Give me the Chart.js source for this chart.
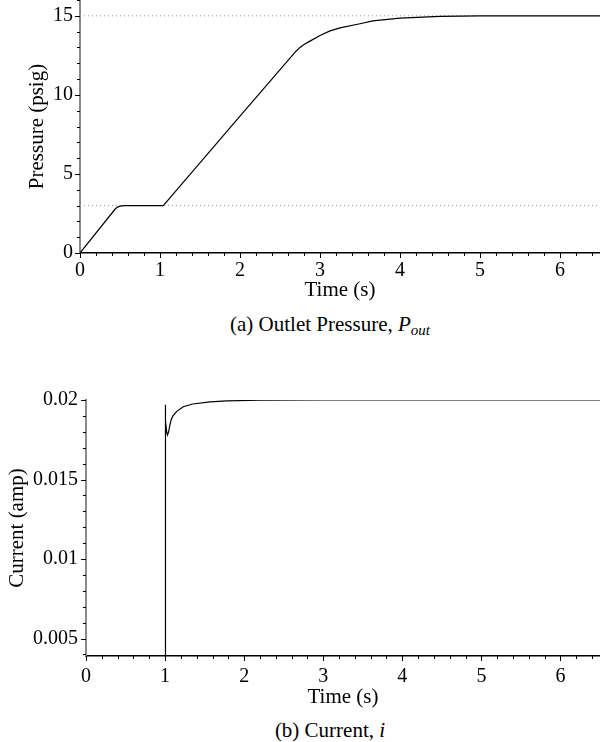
<!DOCTYPE html>
<html><head><meta charset="utf-8">
<script src="https://cdn.jsdelivr.net/npm/chart.js@4.4.0/dist/chart.umd.min.js"></script>
<style>
html,body{margin:0;padding:0;background:#fff;}
body{width:600px;height:742px;position:relative;overflow:hidden;font-family:"Liberation Serif","Times New Roman",serif;}
canvas{position:absolute;left:0;}
#c1{top:0;}
#c2{top:380px;}
.cap{position:absolute;left:30px;width:600px;text-align:center;font-size:21px;line-height:24px;color:#000;white-space:nowrap;}
.cap sub{font-size:15px;vertical-align:-4px;line-height:0;}
</style></head>
<body>
<canvas id="c1" width="600" height="303"></canvas>
<div class="cap" style="top:312px">(a) Outlet Pressure, <i>P<sub>out</sub></i></div>
<canvas id="c2" width="600" height="330"></canvas>
<div class="cap" style="top:718px">(b) Current, <i>i</i></div>
<script>
// ---- data ----
const pressureTime   = [0, 0.44, 0.47, 0.5, 0.55, 0.6, 1.04, 1.1, 2.0, 2.7, 2.75, 2.8, 2.875, 3.0, 3.125, 3.25, 3.5, 3.66, 4.0, 4.5, 5.0, 5.5, 6.0, 6.5];
const pressureValues = [0, 2.78, 2.9, 2.96, 2.99, 3.0, 3.0, 3.35, 8.65, 12.76, 13.0, 13.18, 13.4, 13.75, 14.05, 14.24, 14.5, 14.68, 14.85, 14.96, 14.99, 15, 15, 15];
const pressureRefLevels = [3, 15];

const currentTime   = [0, 1.0, 1.0, 1.01, 1.02, 1.03, 1.045, 1.06, 1.08, 1.1, 1.145, 1.23, 1.35, 1.57, 1.78, 2.2, 3.0, 4.0, 5.0, 6.0, 6.5];
const currentValues = [0, 0, 0.0197, 0.0187, 0.0180, 0.0178, 0.0180, 0.0184, 0.0188, 0.0190, 0.01927, 0.01958, 0.01975, 0.01988, 0.01994, 0.01999, 0.02, 0.02, 0.02, 0.02, 0.02];

const timeTicks     = [0, 1, 2, 3, 4, 5, 6];
const pressureTicks = [0, 5, 10, 15];
const currentTicks  = [0.005, 0.01, 0.015, 0.02];

const FONT = '"Liberation Serif","Times New Roman",serif';

const tickPlugin = {
  id: 'tickMarks',
  afterDraw(chart, args, opts) {
    const ctx = chart.ctx, ca = chart.chartArea;
    const xs = chart.scales.x, ys = chart.scales.y;
    ctx.save();
    ctx.strokeStyle = '#000';
    ctx.lineWidth = 1;
    const minors = (scale, step) => {
      const out = [];
      const a = Math.ceil(scale.min / step - 1e-9), b = Math.floor(scale.max / step + 1e-9);
      for (let i = a; i <= b; i++) out.push(i * step);
      return out;
    };
    const xt = (v, len) => {
      const p = Math.round(xs.getPixelForValue(v)) + 0.5;
      ctx.beginPath(); ctx.moveTo(p, ca.bottom); ctx.lineTo(p, ca.bottom + len); ctx.stroke();
    };
    const yt = (v, len) => {
      const p = Math.round(ys.getPixelForValue(v)) + 0.5;
      ctx.beginPath(); ctx.moveTo(ca.left, p); ctx.lineTo(ca.left - len, p); ctx.stroke();
    };
    minors(xs, opts.xMinor).forEach(v => xt(v, 3));
    opts.xMajor.forEach(v => xt(v, 5));
    minors(ys, opts.yMinor).forEach(v => yt(v, 3));
    opts.yMajor.forEach(v => yt(v, 5));
    ctx.restore();
  }
};

function makeChart(id, cfg) {
  const datasets = [];
  (cfg.refs || []).forEach(r => datasets.push({
    data: [{x: cfg.xmin, y: r}, {x: cfg.xmax, y: r}],
    borderColor: '#9a9a9a', borderWidth: 1, borderDash: [1, 3], pointRadius: 0, order: 2
  }));
  datasets.push({
    data: cfg.t.map((t, i) => ({x: t, y: cfg.v[i]})),
    borderColor: '#000', borderWidth: 1.2, pointRadius: 0, tension: 0, order: 1
  });
  return new Chart(document.getElementById(id), {
    type: 'line',
    data: {datasets},
    options: {
      responsive: false, animation: false, devicePixelRatio: 1,
      layout: {padding: {top: cfg.padTop, left: 0, right: 0, bottom: 0}},
      plugins: {legend: {display: false}, tooltip: {enabled: false},
        tickMarks: {xMajor: timeTicks, xMinor: 0.2, yMajor: cfg.yTicks, yMinor: cfg.yMinor}},
      scales: {
        x: {
          type: 'linear', min: cfg.xmin, max: cfg.xmax,
          afterBuildTicks: s => { s.ticks = timeTicks.map(v => ({value: v})); },
          ticks: {font: {family: FONT, size: 20}, color: '#000', padding: cfg.xPad, maxRotation: 0, autoSkip: false, callback: v => String(v)},
          grid: {display: false, drawTicks: false},
          border: {display: true, color: '#000', width: 1.5},
          title: {display: true, text: 'Time (s)', font: {family: FONT, size: 21, lineHeight: 1.15}, color: '#000', padding: {top: 0, bottom: 0}},
          afterFit: s => { s.height = cfg.xHeight; s.paddingLeft = 0; s.paddingRight = 0; }
        },
        y: {
          type: 'linear', min: cfg.ymin, max: cfg.ymax,
          afterBuildTicks: s => { s.ticks = cfg.yTicks.map(v => ({value: v})); },
          ticks: {font: {family: FONT, size: 20}, color: '#000', padding: cfg.yPad, callback: v => String(v)},
          grid: {display: false, drawTicks: false},
          border: {display: true, color: '#888', width: 2},
          title: {display: true, text: cfg.yTitle, font: {family: FONT, size: 21, lineHeight: 1.15}, color: '#000', padding: {top: cfg.yTitlePad, bottom: 0}},
          afterFit: s => { s.width = cfg.yWidth; s.paddingTop = 0; s.paddingBottom = 0; }
        }
      }
    },
    plugins: [tickPlugin]
  });
}

makeChart('c1', {
  t: pressureTime, v: pressureValues, refs: pressureRefLevels,
  xmin: 0, xmax: 6.5, ymin: 0, ymax: 16, yTicks: pressureTicks, yMinor: 1,
  yTitle: 'Pressure (psig)', yWidth: 80, yPad: 7, yTitlePad: 25,
  xHeight: 50, xPad: 6, padTop: 0
});
makeChart('c2', {
  t: currentTime, v: currentValues, refs: [],
  xmin: 0, xmax: 6.5, ymin: 0.0039, ymax: 0.02, yTicks: currentTicks, yMinor: 0.001,
  yTitle: 'Current (amp)', yWidth: 86, yPad: 8, yTitlePad: 5,
  xHeight: 54, xPad: 9, padTop: 20
});
</script>
</body></html>
